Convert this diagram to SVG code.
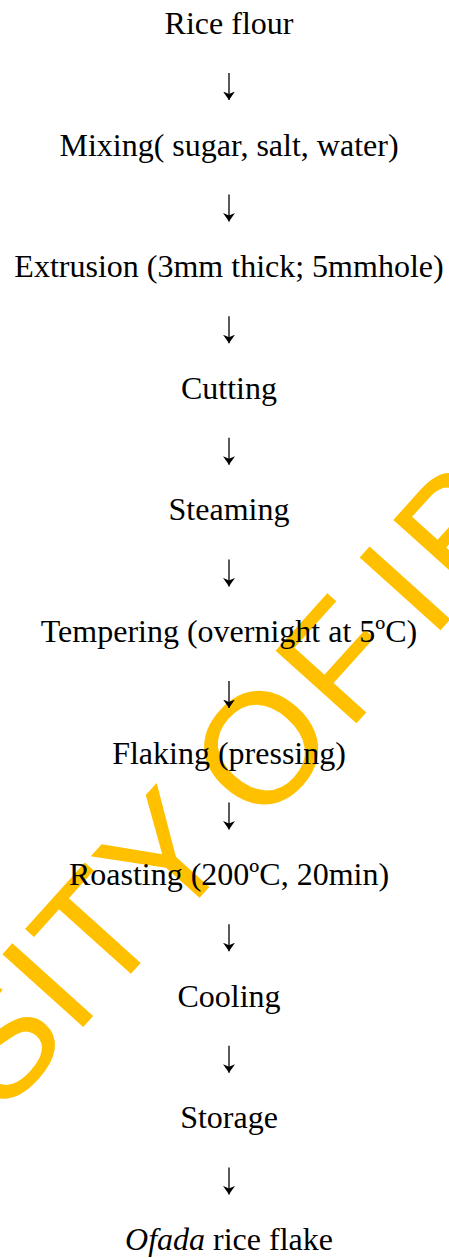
<svg xmlns="http://www.w3.org/2000/svg" width="449" height="1258" viewBox="0 0 449 1258">
<style>
.t{font-family:"Liberation Serif","Times New Roman",serif;font-size:32px;fill:#000;text-anchor:middle}
.wm{font-family:"Liberation Sans",Arial,sans-serif;font-size:158px;fill:#FFC000}
.c{stroke:#000;stroke-width:1.3;fill:none;marker-end:url(#ah)}
</style>
<defs>
<marker id="ah" markerUnits="userSpaceOnUse" markerWidth="10" markerHeight="13" refX="8.5" refY="6.5" orient="auto">
<path d="M0,0.5 L8.5,6.5 L0,12.5 L2.5,6.5 Z" fill="#000"/>
</marker>
</defs>
<rect width="449" height="1258" fill="#fff"/>
<g id="watermark">
<text class="wm" transform="rotate(-48)" y="749" x="-829 -722 -677 -579 -472 -442 -312 -214 -188 -136">SITY OF IB</text>
</g>
<g id="n1"><text class="t" x="229" y="34">Rice flour</text></g>
<g id="n2"><text class="t" x="229" y="155.6">Mixing( sugar, salt, water)</text></g>
<g id="n3"><text class="t" x="229" y="277.2">Extrusion (3mm thick; 5mmhole)</text></g>
<g id="n4"><text class="t" x="229" y="398.8">Cutting</text></g>
<g id="n5"><text class="t" x="229" y="520.4">Steaming</text></g>
<g id="n6"><text class="t" x="229" y="642">Tempering (overnight at 5ºC)</text></g>
<g id="n7"><text class="t" x="229" y="763.6">Flaking (pressing)</text></g>
<g id="n8"><text class="t" x="229" y="885.2">Roasting (200ºC, 20min)</text></g>
<g id="n9"><text class="t" x="229" y="1006.8">Cooling</text></g>
<g id="n10"><text class="t" x="229" y="1128.4">Storage</text></g>
<g id="n11"><text class="t" x="229" y="1250"><tspan font-style="italic">Ofada</tspan> rice flake</text></g>
<g id="connectors">
<path class="c" d="M229 73V100"/>
<path class="c" d="M229 194.6V221.6"/>
<path class="c" d="M229 316.2V343.2"/>
<path class="c" d="M229 437.8V464.8"/>
<path class="c" d="M229 559.4V586.4"/>
<path class="c" d="M229 681V708"/>
<path class="c" d="M229 802.6V829.6"/>
<path class="c" d="M229 924.2V951.2"/>
<path class="c" d="M229 1045.8V1072.8"/>
<path class="c" d="M229 1167.4V1194.4"/>
</g>
</svg>
